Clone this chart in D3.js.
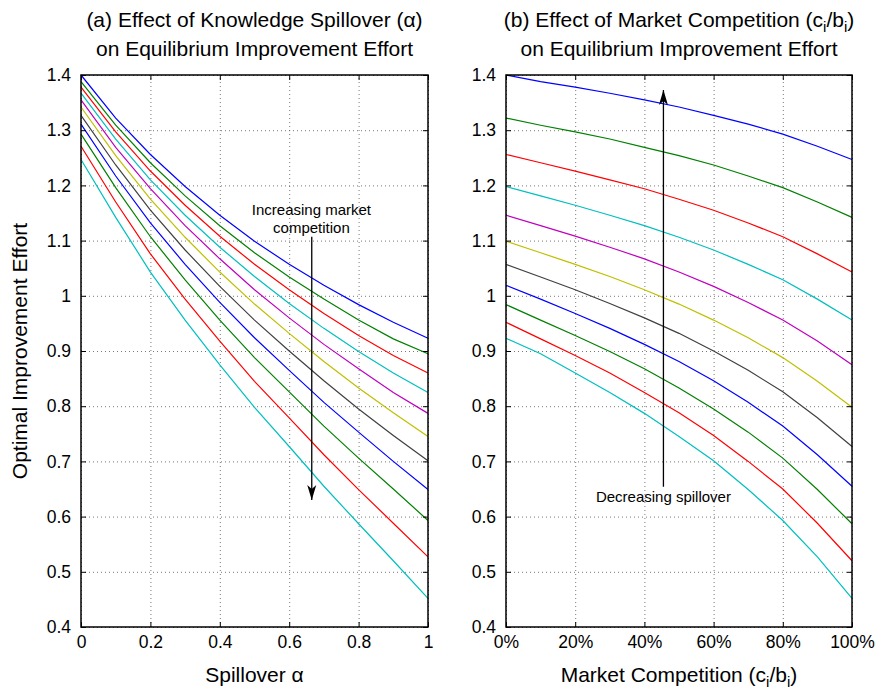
<!DOCTYPE html>
<html>
<head>
<meta charset="utf-8">
<script src="https://cdn.jsdelivr.net/npm/d3@7"></script>
<style>
  body { margin: 0; background: #fff; }
  text { font-family: "Liberation Sans", Arial, sans-serif; fill: #000; }
</style>
</head>
<body>
<svg id="fig" width="879" height="693"></svg>
<script>
// levels used on both panels (0 .. 1 in steps of 0.1)
const spilloverLevels = [0, 0.1, 0.2, 0.3, 0.4, 0.5, 0.6, 0.7, 0.8, 0.9, 1];
const competitionLevels = [0, 0.1, 0.2, 0.3, 0.4, 0.5, 0.6, 0.7, 0.8, 0.9, 1];

// effort: one row per spillover level, one column per competition level
const effort = [
  [1.400, 1.388, 1.378, 1.367, 1.355, 1.342, 1.327, 1.311, 1.293, 1.271, 1.247], // a = 0
  [1.322, 1.309, 1.297, 1.284, 1.269, 1.254, 1.237, 1.217, 1.196, 1.170, 1.142], // a = 0.1
  [1.256, 1.241, 1.226, 1.210, 1.194, 1.175, 1.155, 1.132, 1.107, 1.076, 1.043], // a = 0.2
  [1.198, 1.181, 1.164, 1.146, 1.127, 1.106, 1.083, 1.057, 1.029, 0.994, 0.956], // a = 0.3
  [1.146, 1.127, 1.108, 1.088, 1.067, 1.043, 1.017, 0.988, 0.956, 0.918, 0.875], // a = 0.4
  [1.099, 1.078, 1.057, 1.035, 1.011, 0.985, 0.956, 0.924, 0.888, 0.845, 0.798], // a = 0.5
  [1.057, 1.034, 1.011, 0.986, 0.960, 0.932, 0.900, 0.865, 0.826, 0.779, 0.727], // a = 0.6
  [1.019, 0.994, 0.968, 0.941, 0.912, 0.881, 0.846, 0.807, 0.764, 0.712, 0.655], // a = 0.7
  [0.984, 0.956, 0.928, 0.899, 0.868, 0.833, 0.795, 0.753, 0.706, 0.649, 0.587], // a = 0.8
  [0.952, 0.922, 0.892, 0.860, 0.825, 0.788, 0.747, 0.700, 0.650, 0.588, 0.520], // a = 0.9
  [0.923, 0.895, 0.860, 0.825, 0.787, 0.745, 0.701, 0.649, 0.593, 0.527, 0.452]  // a = 1
];

const yTicks = [0.4, 0.5, 0.6, 0.7, 0.8, 0.9, 1, 1.1, 1.2, 1.3, 1.4];
const xTicks = [0, 0.2, 0.4, 0.6, 0.8, 1];

// matlab default line colours
const palette = ["#0000ff", "#008000", "#ff0000", "#00bfbf", "#bf00bf", "#bfbf00", "#404040"];

const svg = d3.select("#fig");
const plotTop = 75, plotBottom = 627;

const y = d3.scaleLinear().domain([0.4, 1.4]).range([plotBottom, plotTop]);
const numFmt = d => String(+d.toFixed(1));

svg.append("defs").append("marker")
  .attr("id", "head")
  .attr("viewBox", "0 -5 15 10")
  .attr("refX", 15)
  .attr("refY", 0)
  .attr("markerUnits", "userSpaceOnUse")
  .attr("markerWidth", 15)
  .attr("markerHeight", 10)
  .attr("orient", "auto")
  .append("path")
  .attr("d", "M0,-4.5L15,0L0,4.5L4,0Z")
  .attr("fill", "#000");

function richText(sel, parts, size) {
  parts.forEach(p => {
    sel.append("tspan").attr("dy", p.sub ? 5 : (p.back ? -5 : 0))
      .attr("font-size", p.sub ? size - 6 : size).text(p.t);
  });
}

function drawPanel(x0, x1, xFmt, series, title, xLabel) {
  const x = d3.scaleLinear().domain([0, 1]).range([x0, x1]);
  const h = plotBottom - plotTop;
  const w = x1 - x0;
  const g = svg.append("g");

  // dotted grid
  g.append("g")
    .attr("transform", `translate(0,${plotBottom})`)
    .call(d3.axisBottom(x).tickValues(xTicks).tickSize(-h).tickFormat(""))
    .call(s => s.select(".domain").remove())
    .call(s => s.selectAll("line").attr("stroke", "#555").attr("stroke-dasharray", "1,3").attr("stroke-width", 0.8));
  g.append("g")
    .attr("transform", `translate(${x0},0)`)
    .call(d3.axisLeft(y).tickValues(yTicks).tickSize(-w).tickFormat(""))
    .call(s => s.select(".domain").remove())
    .call(s => s.selectAll("line").attr("stroke", "#555").attr("stroke-dasharray", "1,3").attr("stroke-width", 0.8));

  // curves
  const line = d3.line().x(d => x(d[0])).y(d => y(d[1]));
  series.forEach((pts, i) => {
    g.append("path")
      .datum(pts)
      .attr("fill", "none")
      .attr("stroke", palette[i % palette.length])
      .attr("stroke-width", 1.2)
      .attr("d", line);
  });

  // axes with inward ticks on all sides
  const bAx = g.append("g").attr("transform", `translate(0,${plotBottom})`)
    .call(d3.axisBottom(x).tickValues(xTicks).tickSizeInner(-5).tickSizeOuter(0).tickPadding(9).tickFormat(xFmt));
  const lAx = g.append("g").attr("transform", `translate(${x0},0)`)
    .call(d3.axisLeft(y).tickValues(yTicks).tickSizeInner(-5).tickSizeOuter(0).tickPadding(10).tickFormat(numFmt));
  const tAx = g.append("g").attr("transform", `translate(0,${plotTop})`)
    .call(d3.axisTop(x).tickValues(xTicks).tickSizeInner(-5).tickSizeOuter(0).tickFormat(""));
  const rAx = g.append("g").attr("transform", `translate(${x1},0)`)
    .call(d3.axisRight(y).tickValues(yTicks).tickSizeInner(-5).tickSizeOuter(0).tickFormat(""));
  [bAx, lAx, tAx, rAx].forEach(a => {
    a.select(".domain").remove();
    a.selectAll(".tick line").attr("stroke", "#000").attr("stroke-width", 1);
    a.selectAll("text").attr("font-size", 17.5).attr("font-family", "Liberation Sans, Arial, sans-serif").attr("fill", "#000");
  });

  g.append("rect")
    .attr("x", x0).attr("y", plotTop).attr("width", w).attr("height", h)
    .attr("fill", "none").attr("stroke", "#000").attr("stroke-width", 1.5);

  // title (two lines)
  const cx = (x0 + x1) / 2;
  const t1 = g.append("text").attr("x", cx).attr("y", 27).attr("text-anchor", "middle").attr("font-size", 21);
  richText(t1, title[0], 21);
  g.append("text").attr("x", cx).attr("y", 56).attr("text-anchor", "middle").attr("font-size", 21).text(title[1]);

  const xl = g.append("text").attr("x", cx).attr("y", 682).attr("text-anchor", "middle").attr("font-size", 21);
  richText(xl, xLabel, 21);
  return x;
}

// panel (a): one curve per competition level, x = spillover
const seriesA = competitionLevels.map((c, j) => spilloverLevels.map((a, i) => [a, effort[i][j]]));
const xA = drawPanel(81, 428, numFmt, seriesA,
  [[{ t: "(a) Effect of Knowledge Spillover (\u03b1)" }], "on Equilibrium Improvement Effort"],
  [{ t: "Spillover \u03b1" }]);

// panel (b): one curve per spillover level, x = competition
const seriesB = spilloverLevels.map((a, i) => competitionLevels.map((c, j) => [c, effort[i][j]]));
const xB = drawPanel(506, 852, d => Math.round(d * 100) + "%", seriesB,
  [[{ t: "(b) Effect of Market Competition (c" }, { t: "i", sub: true }, { t: "/b", back: true },
    { t: "i", sub: true }, { t: ")", back: true }], "on Equilibrium Improvement Effort"],
  [{ t: "Market Competition (c" }, { t: "i", sub: true }, { t: "/b", back: true },
    { t: "i", sub: true }, { t: ")", back: true }]);

// y label
svg.append("text")
  .attr("transform", `translate(27,${(plotTop + plotBottom) / 2}) rotate(-90)`)
  .attr("text-anchor", "middle")
  .attr("font-size", 21)
  .text("Optimal Improvement Effort");

// annotations
svg.append("line")
  .attr("x1", xA(0.665)).attr("x2", xA(0.665))
  .attr("y1", y(1.107)).attr("y2", y(0.63))
  .attr("stroke", "#000").attr("stroke-width", 1.3)
  .attr("marker-end", "url(#head)");
svg.append("text").attr("x", xA(0.664)).attr("y", y(1.1464)).attr("text-anchor", "middle").attr("font-size", 15)
  .text("Increasing market");
svg.append("text").attr("x", xA(0.664)).attr("y", y(1.1138)).attr("text-anchor", "middle").attr("font-size", 15)
  .text("competition");

svg.append("line")
  .attr("x1", xB(0.455)).attr("x2", xB(0.455))
  .attr("y1", y(0.654)).attr("y2", y(1.373))
  .attr("stroke", "#000").attr("stroke-width", 1.3)
  .attr("marker-end", "url(#head)");
svg.append("text").attr("x", xB(0.455)).attr("y", y(0.627)).attr("text-anchor", "middle").attr("font-size", 15)
  .text("Decreasing spillover");
</script>
</body>
</html>
